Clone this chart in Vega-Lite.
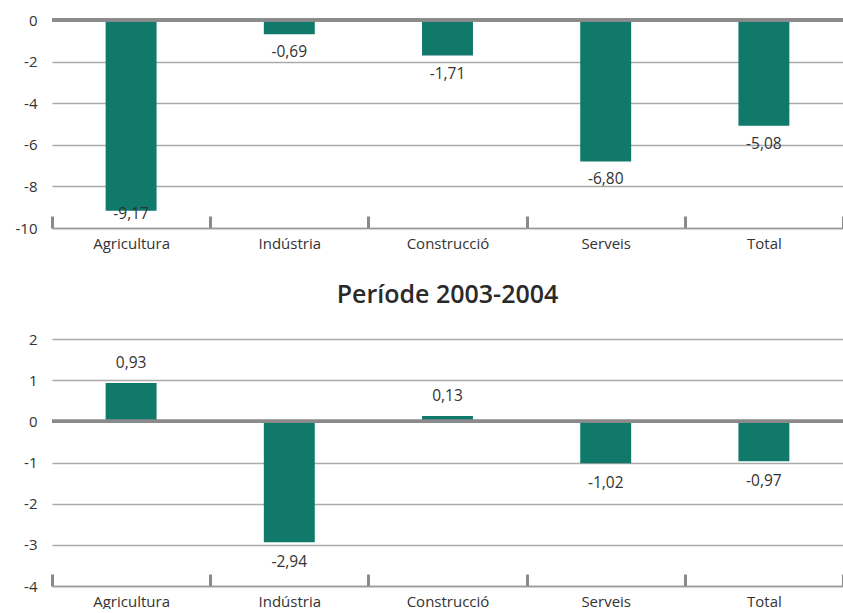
{
  "$schema": "https://vega.github.io/schema/vega-lite/v6.json",
  "padding": {"left": 7, "top": 13, "right": 0, "bottom": 0},
  "autosize": {"type": "pad"},
  "background": "white",
  "spacing": 32,
  "config": {
    "locale": {"number": {"decimal": ",", "thousands": ".", "grouping": [3], "currency": ["", " €"], "minus": "-"}},
    "view": {"stroke": null},
    "font": "Open Sans",
    "axis": {"labelFont": "Open Sans", "labelFontSize": 15, "labelColor": "#333333", "title": null},
    "title": {"font": "Open Sans", "fontSize": 25, "fontWeight": 600, "color": "#2a2a2a", "offset": 24}
  },
  "datasets": {
    "p1": [
      {"sector": "Agricultura", "valor": -9.17},
      {"sector": "Indústria", "valor": -0.69},
      {"sector": "Construcció", "valor": -1.71},
      {"sector": "Serveis", "valor": -6.80},
      {"sector": "Total", "valor": -5.08}
    ],
    "p2": [
      {"sector": "Agricultura", "valor": 0.93},
      {"sector": "Indústria", "valor": -2.94},
      {"sector": "Construcció", "valor": 0.13},
      {"sector": "Serveis", "valor": -1.02},
      {"sector": "Total", "valor": -0.97}
    ]
  },
  "vconcat": [
    {
      "width": 791,
      "height": 208,
      "data": {"name": "p1"},
      "encoding": {
        "x": {"field": "sector", "type": "nominal", "sort": null,
          "scale": {"paddingInner": 0, "paddingOuter": 0},
          "axis": {"labelAngle": 0, "tickBand": "extent", "domainColor": "#999999", "domainWidth": 1.5,
                   "tickColor": "#8a8a8a", "tickWidth": 3, "tickSize": -12, "labelPadding": 20, "grid": false}},
        "y": {"field": "valor", "type": "quantitative",
              "scale": {"domain": [-10, 0], "nice": false},
              "axis": {"values": [-10, -8, -6, -4, -2, 0], "format": "d", "domain": false, "ticks": false,
                       "labelPadding": 15, "gridColor": "#aaaaaa", "gridWidth": 1.5, "minExtent": 45, "maxExtent": 45}}
      },
      "layer": [
        {
          "mark": {"type": "bar", "color": "#10796a", "width": {"band": 0.322}}
        },
        {
          "transform": [{"filter": "datum.valor < 0 && datum.valor > -9"}],
          "mark": {"type": "text", "baseline": "middle", "dy": 18, "fontSize": 15.5, "color": "#333333"},
          "encoding": {"text": {"field": "valor", "type": "quantitative", "format": ".2f"}}
        },
        {
          "transform": [{"filter": "datum.valor <= -9"}],
          "mark": {"type": "text", "baseline": "top", "dy": -4, "fontSize": 15.5, "color": "#333333"},
          "encoding": {"text": {"field": "valor", "type": "quantitative", "format": ".2f"}}
        },
        {
          "mark": {"type": "rule", "color": "#8a8a8a", "strokeWidth": 3},
          "encoding": {"x": {"value": 0}, "x2": {"value": 791}, "y": {"datum": 0}}
        }
      ]
    },
    {
      "title": {"text": "Període 2003-2004"},
      "width": 791,
      "height": 247,
      "data": {"name": "p2"},
      "encoding": {
        "x": {"field": "sector", "type": "nominal", "sort": null,
          "scale": {"paddingInner": 0, "paddingOuter": 0},
          "axis": {"labelAngle": 0, "tickBand": "extent", "domainColor": "#999999", "domainWidth": 1.5,
                   "tickColor": "#8a8a8a", "tickWidth": 3, "tickSize": -12, "labelPadding": 20, "grid": false}},
        "y": {"field": "valor", "type": "quantitative",
              "scale": {"domain": [-4, 2], "nice": false},
              "axis": {"values": [-4, -3, -2, -1, 0, 1, 2], "format": "d", "domain": false, "ticks": false,
                       "labelPadding": 15, "gridColor": "#aaaaaa", "gridWidth": 1.5, "minExtent": 45, "maxExtent": 45}}
      },
      "layer": [
        {
          "mark": {"type": "bar", "color": "#10796a", "width": {"band": 0.322}}
        },
        {
          "transform": [{"filter": "datum.valor < 0"}],
          "mark": {"type": "text", "baseline": "middle", "dy": 20, "fontSize": 15.5, "color": "#333333"},
          "encoding": {"text": {"field": "valor", "type": "quantitative", "format": ".2f"}}
        },
        {
          "transform": [{"filter": "datum.valor >= 0"}],
          "mark": {"type": "text", "baseline": "middle", "dy": -20, "fontSize": 15.5, "color": "#333333"},
          "encoding": {"text": {"field": "valor", "type": "quantitative", "format": ".2f"}}
        },
        {
          "mark": {"type": "rule", "color": "#8a8a8a", "strokeWidth": 3},
          "encoding": {"x": {"value": 0}, "x2": {"value": 791}, "y": {"datum": 0}}
        }
      ]
    }
  ]
}
